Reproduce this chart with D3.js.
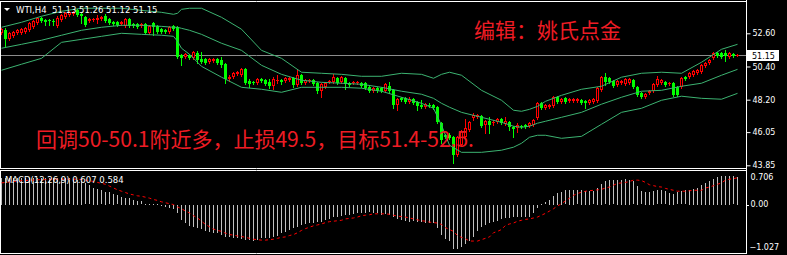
<!DOCTYPE html>
<html><head><meta charset="utf-8">
<script src="https://cdn.jsdelivr.net/npm/d3@7"></script>
<style>body{margin:0;background:#000;overflow:hidden}svg{display:block}</style>
</head><body>
<svg id="c" width="787" height="255"></svg>
<script>
// ---------- DATA ----------
const open=[52.60,52.80,52.20,52.40,52.60,52.60,52.67,52.80,53.00,53.26,
53.59,53.46,53.46,53.40,53.06,53.46,53.66,53.79,53.86,54.12,
53.86,53.66,53.40,53.46,53.46,53.53,53.73,53.53,53.33,53.33,
53.20,53.06,53.53,53.20,53.20,53.06,53.20,52.60,53.26,53.06,
52.87,52.80,52.67,53.06,53.00,51.14,51.01,51.14,50.94,51.27,
50.88,50.88,50.68,50.74,50.88,50.81,50.55,49.55,49.69,49.88,
49.82,50.21,49.42,49.35,49.29,49.55,49.49,49.35,49.09,49.42,
49.49,49.42,49.49,49.62,49.15,49.82,49.29,49.42,49.49,49.29,
48.76,49.02,49.35,49.35,49.62,49.35,49.62,49.29,49.29,49.29,
49.29,49.29,49.02,48.76,48.96,48.96,48.76,49.09,48.82,47.83,
48.29,48.29,48.03,48.23,48.03,47.83,47.70,47.83,47.83,47.70,
46.64,45.84,45.84,45.71,44.52,45.18,45.71,46.17,46.97,47.03,
47.10,46.50,46.77,46.64,46.70,46.90,46.57,46.70,46.37,46.30,
46.44,46.50,46.44,46.50,46.97,47.96,47.63,47.70,47.76,48.36,
48.03,48.29,48.09,48.09,48.09,48.16,48.09,47.96,48.03,48.09,
48.82,49.69,49.62,49.42,49.15,49.29,49.22,49.29,49.49,49.02,
48.62,48.36,48.62,48.76,49.15,49.29,49.35,49.22,49.29,49.02,
49.02,49.69,49.69,49.82,49.95,50.02,50.41,50.61,50.94,51.27,
51.27,51.27,51.01,51.21,51.13];
const high=[52.93,52.93,52.67,52.73,52.87,52.93,53.00,53.33,53.46,53.66,
53.66,53.53,53.53,53.53,53.73,53.86,53.99,54.06,54.06,54.19,
53.93,53.73,53.59,53.59,53.79,53.73,53.86,53.59,53.40,53.40,
53.40,53.59,53.59,53.26,53.26,53.26,53.26,53.13,53.33,53.13,
52.93,52.87,53.06,53.13,53.06,51.21,51.27,51.21,51.41,51.41,
51.34,50.94,50.94,50.94,50.94,51.01,50.61,49.82,50.02,50.08,
50.28,50.28,49.55,49.42,49.62,49.62,49.55,49.55,49.69,49.82,
49.55,49.69,49.69,49.69,50.21,49.88,49.55,49.55,49.55,49.35,
49.29,49.35,49.49,49.88,49.69,49.75,49.69,49.35,49.42,49.42,
49.35,49.35,49.09,49.02,49.02,49.02,49.29,49.35,48.89,48.29,
48.36,48.36,48.36,48.29,48.09,48.16,47.96,47.96,47.90,47.76,
46.70,45.91,45.97,45.77,45.77,46.17,46.90,46.77,47.30,47.23,
47.17,46.84,47.03,46.84,46.97,46.97,47.03,46.77,46.44,46.64,
46.50,46.57,46.70,46.90,48.03,48.03,47.90,47.90,48.43,48.43,
48.29,48.36,48.29,48.29,48.29,48.23,48.16,48.23,48.29,49.02,
49.75,49.95,49.69,49.49,49.49,49.49,49.62,49.62,49.55,49.09,
48.69,48.62,48.82,49.29,49.75,49.55,49.42,49.35,49.35,49.09,
49.69,49.75,50.02,50.15,50.21,50.55,50.68,50.88,51.34,51.34,
51.34,51.47,51.34,51.27,51.26];
const low=[52.53,51.74,52.14,52.34,52.53,52.53,52.60,52.73,52.93,53.20,
53.33,53.13,53.13,53.13,53.00,53.40,53.59,53.73,53.79,53.73,
53.26,53.06,53.33,53.40,53.26,53.46,53.33,53.20,53.13,53.06,
53.13,53.00,53.00,53.00,52.93,53.00,52.53,52.53,52.47,52.60,
52.60,52.60,52.60,52.80,50.94,50.48,50.94,50.88,50.88,50.61,
50.61,50.55,50.61,50.68,50.55,50.35,49.29,49.42,49.62,49.82,
49.75,49.22,49.02,49.22,49.22,49.35,49.15,48.96,48.89,49.29,
49.22,49.35,49.42,49.02,49.09,49.22,49.22,49.35,49.15,48.62,
48.36,48.96,49.29,49.29,49.22,49.29,48.89,49.09,49.22,49.22,
49.02,48.89,48.69,48.69,48.69,48.69,48.69,48.62,47.63,47.50,
48.09,47.96,47.96,47.90,47.50,47.63,47.63,47.70,47.56,46.64,
45.31,45.64,45.58,43.98,44.45,45.11,45.64,46.11,46.84,46.97,
46.37,45.97,45.97,46.50,46.64,46.57,46.50,46.17,45.71,46.04,
46.30,46.30,46.37,46.44,46.90,47.56,47.56,47.63,47.70,47.96,
47.96,47.96,48.03,48.03,48.03,47.90,47.63,47.90,47.96,48.03,
48.76,49.15,49.29,49.02,49.09,49.22,49.15,49.22,48.96,48.43,
48.29,48.29,48.56,48.69,49.09,49.22,49.09,49.15,48.43,48.43,
48.96,49.49,49.62,49.75,49.88,49.95,50.35,50.55,50.88,51.01,
50.94,50.74,50.94,51.01,51.12];
const close=[52.87,52.20,52.60,52.67,52.80,52.87,52.93,53.26,53.40,53.59,
53.40,53.33,53.40,53.33,53.59,53.79,53.93,53.99,53.99,53.79,
53.73,53.13,53.53,53.53,53.59,53.66,53.40,53.26,53.20,53.13,
53.33,53.53,53.06,53.06,53.00,53.20,52.60,53.06,53.00,52.67,
52.67,52.67,53.00,52.87,51.01,50.94,51.21,50.94,51.34,50.81,
50.68,50.61,50.88,50.88,50.61,50.48,49.55,49.69,49.95,50.02,
50.21,49.29,49.22,49.29,49.55,49.42,49.22,49.09,49.55,49.49,
49.35,49.62,49.62,49.15,49.82,49.29,49.49,49.49,49.22,48.76,
49.22,49.29,49.42,49.69,49.29,49.69,49.22,49.15,49.35,49.35,
49.09,48.96,48.76,48.96,48.76,48.76,49.22,48.76,47.83,48.23,
48.16,48.03,48.23,47.96,47.76,47.70,47.90,47.76,47.63,46.70,
45.51,45.71,45.64,44.52,45.71,46.11,46.30,46.70,47.17,47.17,
46.44,46.77,46.50,46.70,46.90,46.64,46.77,46.37,46.24,46.50,
46.37,46.37,46.64,46.84,47.96,47.63,47.83,47.83,48.36,48.03,
48.23,48.03,48.23,48.23,48.23,47.96,47.96,48.16,48.23,48.96,
49.69,49.35,49.35,49.09,49.42,49.42,49.55,49.55,49.02,48.49,
48.36,48.56,48.76,49.22,49.55,49.49,49.15,49.29,48.49,48.49,
49.62,49.55,49.95,50.08,50.15,50.48,50.61,50.81,51.27,51.08,
51.01,51.08,51.27,51.08,51.15];

const macdMain=[0.58,0.58,0.58,0.58,0.58,0.58,0.58,0.58,0.58,0.58,
0.58,0.58,0.58,0.58,0.58,0.58,0.58,0.57,0.56,0.54,
0.51,0.46,0.42,0.36,0.34,0.31,0.28,0.27,0.23,0.20,
0.17,0.15,0.15,0.11,0.08,0.07,0.02,0.01,0.01,0.01,
-0.03,-0.04,-0.06,-0.08,-0.18,-0.32,-0.40,-0.45,-0.47,-0.50,
-0.53,-0.56,-0.58,-0.60,-0.61,-0.65,-0.69,-0.70,-0.72,-0.72,
-0.74,-0.76,-0.76,-0.78,-0.76,-0.72,-0.72,-0.72,-0.70,-0.67,
-0.61,-0.58,-0.54,-0.505,-0.47,-0.43,-0.41,-0.40,-0.38,-0.36,
-0.36,-0.325,-0.31,-0.27,-0.25,-0.24,-0.22,-0.22,-0.195,-0.18,
-0.18,-0.17,-0.16,-0.18,-0.18,-0.22,-0.195,-0.22,-0.27,-0.31,
-0.325,-0.34,-0.36,-0.34,-0.36,-0.375,-0.38,-0.40,-0.40,-0.505,
-0.65,-0.74,-0.79,-0.96,-0.96,-0.90,-0.84,-0.79,-0.685,-0.556,
-0.47,-0.43,-0.40,-0.36,-0.34,-0.31,-0.29,-0.29,-0.27,-0.25,
-0.27,-0.27,-0.27,-0.18,-0.07,0.01,0.05,0.11,0.195,0.25,
0.28,0.31,0.325,0.325,0.31,0.325,0.30,0.30,0.29,0.36,
0.45,0.505,0.54,0.53,0.54,0.54,0.556,0.54,0.505,0.41,
0.29,0.28,0.28,0.30,0.31,0.31,0.29,0.25,0.24,0.27,
0.29,0.31,0.325,0.34,0.36,0.43,0.47,0.52,0.556,0.60,
0.628,0.628,0.628,0.613,0.607];
const macdSignal=[0.47,0.48,0.49,0.50,0.51,0.52,0.52,0.53,0.53,0.54,
0.54,0.54,0.55,0.55,0.55,0.55,0.55,0.55,0.55,0.55,
0.54,0.53,0.52,0.50,0.48,0.46,0.44,0.40,0.36,0.32,
0.29,0.26,0.23,0.21,0.19,0.18,0.16,0.14,0.11,0.09,
0.06,0.04,0.02,0.00,-0.05,-0.09,-0.14,-0.18,-0.24,-0.29,
-0.36,-0.43,-0.48,-0.53,-0.56,-0.58,-0.62,-0.65,-0.66,-0.68,
-0.69,-0.71,-0.73,-0.75,-0.76,-0.77,-0.77,-0.76,-0.75,-0.73,
-0.71,-0.70,-0.67,-0.65,-0.61,-0.56,-0.52,-0.49,-0.46,-0.44,
-0.42,-0.39,-0.37,-0.36,-0.35,-0.34,-0.31,-0.30,-0.29,-0.27,
-0.24,-0.23,-0.22,-0.20,-0.20,-0.20,-0.20,-0.21,-0.23,-0.25,
-0.26,-0.27,-0.29,-0.31,-0.33,-0.35,-0.36,-0.38,-0.39,-0.40,
-0.43,-0.50,-0.54,-0.58,-0.67,-0.71,-0.74,-0.79,-0.79,-0.79,
-0.76,-0.73,-0.70,-0.61,-0.58,-0.54,-0.45,-0.42,-0.40,-0.36,
-0.34,-0.32,-0.31,-0.29,-0.27,-0.23,-0.19,-0.14,-0.09,-0.03,
0.02,0.08,0.14,0.20,0.24,0.27,0.29,0.30,0.31,0.32,
0.33,0.36,0.38,0.42,0.46,0.47,0.48,0.50,0.53,0.53,
0.52,0.48,0.43,0.41,0.39,0.38,0.35,0.33,0.31,0.29,
0.29,0.29,0.30,0.31,0.31,0.31,0.36,0.38,0.41,0.44,
0.47,0.53,0.55,0.56,0.584];

const bandIdx=[0,5,10,15,20,25,30,35,40,43,44,45,47,50,55,60,65,70,75,80,85,90,95,100,105,108,110,112,115,120,125,128,130,132,134,136,140,145,150,155,160,165,170,175,180,184];
const bandUpper=[53.00,53.33,53.73,54.06,54.26,54.26,54.26,54.12,53.99,53.86,53.93,54.19,54.26,54.26,53.66,52.87,51.47,50.94,50.02,49.95,49.88,49.75,49.75,49.95,49.88,49.62,49.88,50.02,49.82,48.82,48.16,47.50,47.43,47.56,47.76,48.09,48.49,48.89,49.09,49.69,49.95,50.02,49.95,50.68,51.54,51.87];
const bandMid=[51.61,51.87,52.14,52.47,52.80,53.00,53.13,53.13,53.06,53.00,53.00,52.93,52.80,52.53,51.94,51.47,50.48,49.88,49.49,49.35,49.29,49.22,49.02,48.76,48.56,48.29,47.96,47.70,47.36,47.03,46.70,46.44,46.37,46.44,46.64,46.77,47.03,47.36,47.90,48.36,48.76,48.82,49.09,49.29,49.82,50.21];
const bandLower=[50.15,50.55,50.94,52.00,52.20,52.40,52.60,52.53,52.47,52.40,52.07,51.61,51.21,50.41,49.69,49.02,48.89,48.69,49.02,49.02,49.02,48.96,48.76,48.36,47.96,47.63,46.50,45.18,44.71,44.71,44.85,45.05,45.31,45.71,45.84,45.84,45.64,45.77,46.57,47.36,47.63,48.16,48.43,48.29,48.23,48.62];

const priceTicks=[52.60,50.40,48.20,46.05,43.85];
const macdTicks=[0.706,0,-1.027];
const lastPrice=51.15;
const titleMain="WTI,H4  51.13 51.26 51.12 51.15";
const titleMacd="MACD(12,26,9) 0.607 0.584";
const note1="编辑：姚氏点金";
const note2="回调50-50.1附近多，止损49.5，目标51.4-52.5.";

// ---------- DRAW ----------
const svg=d3.select("#c");
svg.append("rect").attr("width",787).attr("height",255).attr("fill","#000");

const x=d3.scaleLinear().domain([0,184]).range([1.5,737.5]);
const y=d3.scaleLinear().domain([43.85,52.60]).range([165.3,33.3]);
const ym=d3.scaleLinear().domain([-1.027,0.706]).range([252,172]);

const RED="#ff0000", GRN="#00ff00", BAND="#3cb371";
const defs=svg.append("defs");
defs.append("clipPath").attr("id","cm").append("rect").attr("x",1).attr("y",2).attr("width",745).attr("height",166);
defs.append("clipPath").attr("id","cd").append("rect").attr("x",1).attr("y",171).attr("width",745).attr("height",82);

const main=svg.append("g").attr("clip-path","url(#cm)");
// last price line
main.append("line").attr("x1",0).attr("x2",746).attr("y1",Math.round(y(lastPrice))+0.5).attr("y2",Math.round(y(lastPrice))+0.5).attr("stroke","#8c8c8c");

const idx=d3.range(open.length);
const cg=main.append("g");
idx.forEach(i=>{
  const up=close[i]>=open[i];
  const col=up?RED:GRN;
  const cx=x(i);
  const yh=Math.round(y(high[i])), yl=Math.round(y(low[i]));
  cg.append("rect").attr("x",cx-0.5).attr("y",yh).attr("width",1).attr("height",Math.max(1,yl-yh+1)).attr("fill",col);
  const top=Math.round(y(Math.max(open[i],close[i]))), bot=Math.round(y(Math.min(open[i],close[i])));
  if(bot-top<=1){
    cg.append("rect").attr("x",cx-1.5).attr("y",top).attr("width",3).attr("height",Math.max(1,bot-top)).attr("fill",col);
  } else if(up){
    cg.append("rect").attr("x",cx-1).attr("y",top+0.5).attr("width",2).attr("height",bot-top-1).attr("fill","#000").attr("stroke",col).attr("stroke-width",1);
  } else {
    cg.append("rect").attr("x",cx-1.5).attr("y",top).attr("width",3).attr("height",bot-top).attr("fill",col);
  }
});

// bollinger bands
[bandUpper,bandMid,bandLower].forEach(arr=>{
  main.append("path").datum(arr).attr("fill","none").attr("stroke",BAND).attr("stroke-width",1)
    .attr("d",d3.line().x((d,k)=>x(bandIdx[k])).y(d=>y(d)));
});

// MACD
const md=svg.append("g").attr("clip-path","url(#cd)");
md.selectAll("rect.h").data(macdMain).join("rect").attr("class","h")
  .attr("x",(d,i)=>x(i)-0.5).attr("width",1)
  .attr("y",d=>Math.round(Math.min(ym(0),ym(d))))
  .attr("height",d=>Math.max(1,Math.round(Math.abs(ym(d)-ym(0)))))
  .attr("fill","#c0c0c0");
md.append("path").datum(macdSignal).attr("fill","none").attr("stroke",RED).attr("stroke-width",1)
  .attr("stroke-dasharray","3,3").attr("d",d3.line().x((d,i)=>x(i)).y(d=>ym(d)));

// frames
const fr=svg.append("g").attr("stroke","#fff").attr("stroke-width",1);
fr.append("line").attr("x1",0).attr("x2",747).attr("y1",1.5).attr("y2",1.5);
fr.append("line").attr("x1",0.5).attr("x2",0.5).attr("y1",1).attr("y2",169);
fr.append("line").attr("x1",0).attr("x2",747).attr("y1",168.5).attr("y2",168.5);
fr.append("line").attr("x1",0).attr("x2",747).attr("y1",170.5).attr("y2",170.5);
fr.append("line").attr("x1",0.5).attr("x2",0.5).attr("y1",170).attr("y2",254);
fr.append("line").attr("x1",0).attr("x2",747).attr("y1",253.5).attr("y2",253.5);
fr.append("line").attr("x1",746.5).attr("x2",746.5).attr("y1",0).attr("y2",254);

const FONT="'DejaVu Sans', sans-serif";
// price axis
const ax=d3.axisRight(y).tickValues(priceTicks).tickFormat(d3.format(".2f")).tickSize(4).tickPadding(2);
const ga=svg.append("g").attr("transform","translate(746.5,0)").call(ax);
ga.select(".domain").remove();
ga.selectAll("line").attr("stroke","#fff");
ga.selectAll("text").attr("fill","#fff").attr("font-family",FONT).attr("font-size",8);
ga.attr("font-family",FONT).attr("font-size",8);

// last price box
const ly=y(lastPrice);
svg.append("rect").attr("x",747).attr("y",Math.round(ly)-5).attr("width",32).attr("height",11).attr("fill","#fff");
svg.append("text").attr("x",752).attr("y",Math.round(ly)+3.5).attr("fill","#000").attr("font-family",FONT).attr("font-size",8).text(d3.format(".2f")(lastPrice));

// macd axis
const mfmt=d=>d===0?"0.00":d3.format(".3f")(d);
const mg=svg.append("g");
mg.selectAll("line").data(macdTicks.filter(d=>d===0)).join("line")
  .attr("x1",746.5).attr("x2",749).attr("y1",d=>Math.round(ym(d))+0.5).attr("y2",d=>Math.round(ym(d))+0.5).attr("stroke","#fff");
mg.selectAll("text").data(macdTicks).join("text")
  .attr("x",d=>d<0?749.5:750.5)
  .attr("y",d=>ym(d)+(d===d3.max(macdTicks)?5:d===d3.min(macdTicks)?-5:0))
  .attr("dy","0.35em").attr("fill","#fff").attr("font-family",FONT).attr("font-size",8).text(mfmt);

// titles
svg.append("polygon").attr("points","4,8 10,8 7,11").attr("fill","#fff");
svg.append("text").attr("x",16).attr("y",12.5).attr("fill","#fff").attr("font-family",FONT).attr("font-size",8.5)
  .style("white-space","pre").text(titleMain);
svg.append("text").attr("x",5).attr("y",183).attr("fill","#fff").attr("font-family",FONT).attr("font-size",8.5)
  .style("white-space","pre").text(titleMacd);

// notes
const CJK="'Noto Sans CJK SC', sans-serif";
svg.append("text").attr("x",474).attr("y",38).attr("fill","#ee1c24").attr("font-family",CJK).attr("font-size",21).text(note1);
svg.append("text").attr("x",36).attr("y",146.5).attr("fill","#ee1c24").attr("font-family",CJK).attr("font-size",21).text(note2);
</script>
</body></html>
